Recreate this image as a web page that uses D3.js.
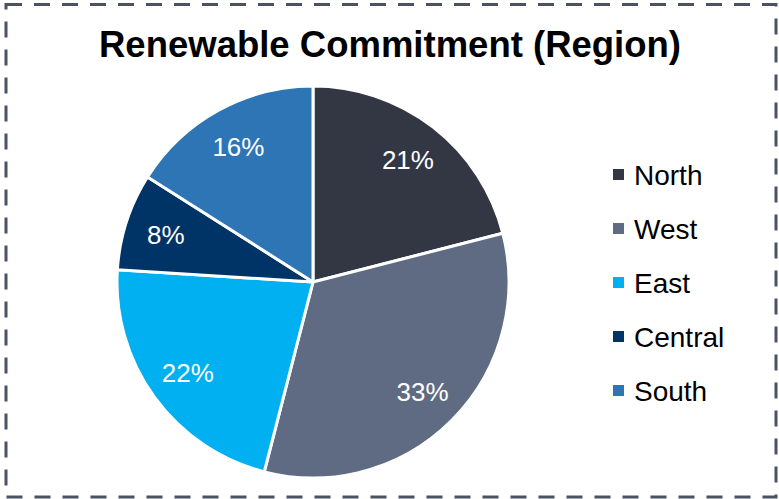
<!DOCTYPE html>
<html>
<head>
<meta charset="utf-8">
<script src="https://cdn.jsdelivr.net/npm/d3@7"></script>
<style>
  html, body { margin: 0; padding: 0; background: #fff; }
  svg { display: block; font-family: "Liberation Sans", Arial, sans-serif; }
</style>
</head>
<body>
<div id="chart"></div>
<script>
/* data */
const regions = ['North', 'West', 'East', 'Central', 'South'];
const shares  = [21, 33, 22, 8, 16];
const colors  = ['#333744', '#5f6b82', '#00b0f0', '#003366', '#2e75b6'];

const W = 779, H = 499;
const CX = 313, CY = 282, R = 196;

const svg = d3.select('#chart').append('svg')
  .attr('width', W).attr('height', H);

// dashed frame
svg.append('rect')
  .attr('x', 6).attr('y', 4.5)
  .attr('width', 770).attr('height', 492.5)
  .attr('fill', 'none')
  .attr('stroke', '#4a5363')
  .attr('stroke-width', 3)
  .attr('stroke-dasharray', '16 12');

// title
svg.append('text')
  .attr('x', 390).attr('y', 57)
  .attr('text-anchor', 'middle')
  .attr('font-size', 36.5)
  .attr('font-weight', 'bold')
  .attr('fill', '#000')
  .text('Renewable Commitment (Region)');

const data = regions.map((r, i) => ({ region: r, value: shares[i], color: colors[i] }));

const pie = d3.pie().value(d => d.value).sort(null);
const arc = d3.arc().innerRadius(0).outerRadius(R);
const labelArc = d3.arc().innerRadius(R * 0.79).outerRadius(R * 0.79);

const g = svg.append('g').attr('transform', `translate(${CX},${CY})`);
const arcs = pie(data);

g.selectAll('path.slice')
  .data(arcs)
  .join('path')
  .attr('class', 'slice')
  .attr('d', arc)
  .attr('fill', d => d.data.color)
  .attr('stroke', '#fff')
  .attr('stroke-width', 3)
  .attr('stroke-linejoin', 'round');

g.selectAll('text.pct')
  .data(arcs)
  .join('text')
  .attr('class', 'pct')
  .attr('transform', d => `translate(${labelArc.centroid(d)})`)
  .attr('text-anchor', 'middle')
  .attr('dy', '0.36em')
  .attr('font-size', 26)
  .attr('fill', '#fff')
  .text(d => d.data.value + '%');

// legend
const legend = svg.append('g').attr('transform', 'translate(613,175)');
const row = legend.selectAll('g')
  .data(data)
  .join('g')
  .attr('transform', (d, i) => `translate(0,${i * 54})`);
row.append('rect')
  .attr('x', 0).attr('y', -6)
  .attr('width', 11).attr('height', 11)
  .attr('fill', d => d.color);
row.append('text')
  .attr('x', 21).attr('y', 0)
  .attr('dy', '0.36em')
  .attr('font-size', 28)
  .attr('fill', '#000')
  .text(d => d.region);
</script>
</body>
</html>
